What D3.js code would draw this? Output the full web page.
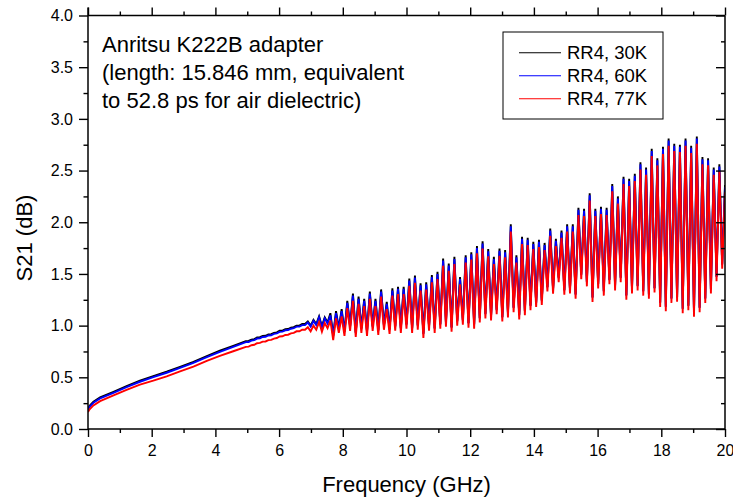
<!DOCTYPE html>
<html>
<head>
<meta charset="utf-8">
<script src="https://cdn.jsdelivr.net/npm/d3@7"></script>
<style>
  body { margin: 0; background: #fff; }
  svg { display: block; font-family: "Liberation Sans", Arial, Helvetica, sans-serif; }
</style>
</head>
<body>
<div id="chart"></div>
<script>
// ---- data ----
// smooth part (0 - 4.6 GHz)
const lowFreq = [0, 0.05, 0.17, 0.38, 0.8, 1.21, 1.63, 2.05, 2.47, 2.89, 3.31, 3.73, 4.14, 4.56];
const low30K = [0.19, 0.225, 0.264, 0.306, 0.36, 0.415, 0.467, 0.512, 0.554, 0.602, 0.65, 0.705, 0.757, 0.805];
const low60K = [0.185, 0.215, 0.254, 0.296, 0.35, 0.405, 0.457, 0.502, 0.544, 0.592, 0.64, 0.695, 0.747, 0.795];
const low77K = [0.165, 0.19, 0.228, 0.27, 0.325, 0.378, 0.43, 0.468, 0.51, 0.558, 0.604, 0.66, 0.707, 0.752];

// ripple part: sampled every half ripple period from 4.955 GHz to 20 GHz (peak, trough, peak, ...)
const hiStart = 4.955, hiStep = 0.0885;
const hi30K = [
  0.85,0.852, 0.865,0.87, 0.885,0.888, 0.90,0.902, 0.915,0.917, 0.93,0.935, 0.95,0.952, 0.965,0.967, 0.98,0.985, 1.00,1.00,
  1.015,1.015, 1.04,1.00, 1.055,1.015, 1.09,0.995, 1.08,1.03, 1.12,0.905, 1.14,0.975, 1.16,0.945, 1.24,0.995, 1.31,0.935,
  1.28,0.975, 1.26,0.945, 1.33,0.995, 1.26,0.955, 1.35,1.005, 1.23,0.965, 1.36,0.995, 1.375,0.975, 1.375,1.015, 1.455,0.975,
  1.485,1.005, 1.41,0.925, 1.42,0.995, 1.49,0.975, 1.52,1.015, 1.65,1.035, 1.60,0.985, 1.665,1.045, 1.47,1.055, 1.68,1.025,
  1.71,1.015, 1.77,1.075, 1.815,1.115, 1.74,1.095, 1.665,1.155, 1.745,1.085, 1.73,1.125, 1.98,1.175, 1.68,1.105, 1.86,1.145,
  1.85,1.195, 1.81,1.225, 1.83,1.245, 1.80,1.375, 1.94,1.355, 1.84,1.465, 1.92,1.345, 1.98,1.355, 1.98,1.305, 2.14,1.495,
  2.13,1.425, 2.28,1.275, 2.13,1.405, 2.15,1.335, 2.14,1.445, 2.37,1.385, 2.25,1.465, 2.44,1.295, 2.42,1.355, 2.47,1.385,
  2.58,1.335, 2.53,1.305, 2.71,1.365, 2.62,1.225, 2.73,1.185, 2.81,1.265, 2.76,1.275, 2.75,1.165, 2.81,1.195, 2.74,1.13,
  2.83,1.175, 2.63,1.265, 2.62,1.355, 2.53,1.475, 2.56,1.595, 2.36
];
const hi60K = [
  0.84,0.842, 0.855,0.86, 0.875,0.878, 0.89,0.892, 0.905,0.907, 0.92,0.925, 0.94,0.942, 0.955,0.957, 0.97,0.975, 0.99,0.99,
  1.005,1.005, 1.03,0.99, 1.045,1.005, 1.08,0.985, 1.07,1.02, 1.10,0.90, 1.12,0.97, 1.14,0.94, 1.22,0.99, 1.29,0.93,
  1.26,0.97, 1.24,0.94, 1.31,0.99, 1.24,0.95, 1.33,1.00, 1.21,0.96, 1.34,0.99, 1.355,0.97, 1.355,1.01, 1.435,0.97,
  1.465,1.00, 1.39,0.92, 1.40,0.99, 1.47,0.97, 1.50,1.01, 1.63,1.03, 1.58,0.98, 1.645,1.04, 1.45,1.05, 1.66,1.02,
  1.69,1.01, 1.75,1.07, 1.795,1.11, 1.72,1.09, 1.645,1.15, 1.725,1.08, 1.71,1.12, 1.96,1.17, 1.66,1.10, 1.84,1.14,
  1.83,1.19, 1.79,1.22, 1.81,1.24, 1.78,1.37, 1.92,1.35, 1.82,1.46, 1.90,1.34, 1.96,1.35, 1.96,1.30, 2.12,1.49,
  2.11,1.42, 2.26,1.27, 2.11,1.40, 2.13,1.33, 2.12,1.44, 2.35,1.38, 2.23,1.46, 2.42,1.29, 2.40,1.35, 2.45,1.38,
  2.56,1.33, 2.51,1.30, 2.69,1.36, 2.60,1.22, 2.71,1.18, 2.79,1.26, 2.74,1.27, 2.73,1.16, 2.79,1.19, 2.72,1.125,
  2.81,1.17, 2.61,1.26, 2.60,1.35, 2.51,1.47, 2.54,1.59, 2.34
];
const hi77K = [
  0.795,0.797, 0.81,0.815, 0.83,0.833, 0.845,0.847, 0.86,0.862, 0.875,0.88, 0.895,0.897, 0.91,0.912, 0.925,0.93, 0.945,0.945,
  0.96,0.96, 0.985,0.945, 1.00,0.96, 1.035,0.94, 1.025,0.975, 1.05,0.86, 1.07,0.93, 1.09,0.90, 1.17,0.95, 1.24,0.89,
  1.21,0.93, 1.19,0.90, 1.26,0.95, 1.19,0.91, 1.28,0.96, 1.16,0.92, 1.29,0.95, 1.305,0.93, 1.305,0.97, 1.385,0.93,
  1.415,0.96, 1.34,0.88, 1.35,0.95, 1.42,0.93, 1.45,0.97, 1.58,0.99, 1.53,0.94, 1.595,1.00, 1.40,1.01, 1.61,0.98,
  1.64,0.97, 1.70,1.03, 1.745,1.07, 1.67,1.05, 1.595,1.11, 1.675,1.04, 1.66,1.08, 1.91,1.13, 1.61,1.06, 1.79,1.10,
  1.78,1.15, 1.74,1.18, 1.76,1.20, 1.73,1.33, 1.87,1.31, 1.77,1.42, 1.85,1.30, 1.91,1.31, 1.91,1.26, 2.07,1.45,
  2.06,1.38, 2.21,1.23, 2.06,1.36, 2.08,1.29, 2.07,1.40, 2.30,1.34, 2.18,1.42, 2.37,1.25, 2.35,1.31, 2.40,1.34,
  2.51,1.29, 2.46,1.26, 2.64,1.32, 2.55,1.18, 2.66,1.14, 2.74,1.22, 2.69,1.23, 2.68,1.12, 2.74,1.15, 2.67,1.085,
  2.76,1.13, 2.56,1.22, 2.55,1.31, 2.46,1.43, 2.49,1.55, 2.29
];

const seriesNames = ["RR4, 30K", "RR4, 60K", "RR4, 77K"];
const seriesColors = ["#000000", "#0000ff", "#ff0000"];
const xMajorTicks = [0, 2, 4, 6, 8, 10, 12, 14, 16, 18, 20];
const xMinorTicks = [1, 3, 5, 7, 9, 11, 13, 15, 17, 19];
const yMajorTicks = [0, 0.5, 1.0, 1.5, 2.0, 2.5, 3.0, 3.5, 4.0];
const yMinorTicks = [0.25, 0.75, 1.25, 1.75, 2.25, 2.75, 3.25, 3.75];
const noteLines = ["Anritsu K222B adapter", "(length: 15.846 mm, equivalent", "to 52.8 ps for air dielectric)"];

// ---- chart ----
const width = 733, height = 499;
const margin = { top: 15.5, right: 8, bottom: 70, left: 88 };

const svg = d3.select("#chart").append("svg")
  .attr("width", width)
  .attr("height", height);

const x = d3.scaleLinear().domain([0, 20]).range([margin.left, width - margin.right]);
const y = d3.scaleLinear().domain([0, 4]).range([height - margin.bottom, margin.top]);

// build the three series
const hiFreq = hi60K.map((d, i) => hiStart + i * hiStep);
const freq = lowFreq.concat(hiFreq);
const series = [low30K.concat(hi30K), low60K.concat(hi60K), low77K.concat(hi77K)];

svg.append("clipPath").attr("id", "plot-clip")
  .append("rect")
  .attr("x", x(0)).attr("y", y(4))
  .attr("width", x(20) - x(0)).attr("height", y(0) - y(4));

const line = d3.line()
  .x((d, i) => x(freq[i]))
  .y(d => y(d));

const plot = svg.append("g").attr("clip-path", "url(#plot-clip)");
series.forEach((vals, k) => {
  plot.append("path")
    .datum(vals)
    .attr("fill", "none")
    .attr("stroke", seriesColors[k])
    .attr("stroke-width", 1.9)
    .attr("stroke-linejoin", "miter")
    .attr("d", line);
});

// axes
function styleAxis(g) {
  g.selectAll("line").attr("stroke", "#000").attr("stroke-width", 1.4);
  g.select(".domain").remove();
  g.selectAll("text").style("font-size", "16px").attr("fill", "#000");
}

const yBottom = y(0), yTop = y(4), xLeft = x(0), xRight = x(20);

// bottom: outward ticks with labels
svg.append("g").attr("transform", `translate(0,${yBottom})`)
  .call(d3.axisBottom(x).tickValues(xMajorTicks).tickSize(8).tickPadding(8).tickFormat(d3.format("d")))
  .call(styleAxis);
svg.append("g").attr("transform", `translate(0,${yBottom})`)
  .call(d3.axisBottom(x).tickValues(xMinorTicks).tickSize(4).tickFormat(""))
  .call(styleAxis);

// top: outward ticks, no labels
svg.append("g").attr("transform", `translate(0,${yTop})`)
  .call(d3.axisTop(x).tickValues(xMajorTicks).tickSize(8).tickFormat(""))
  .call(styleAxis);
svg.append("g").attr("transform", `translate(0,${yTop})`)
  .call(d3.axisTop(x).tickValues(xMinorTicks).tickSize(4).tickFormat(""))
  .call(styleAxis);

// left: outward ticks with labels
svg.append("g").attr("transform", `translate(${xLeft},0)`)
  .call(d3.axisLeft(y).tickValues(yMajorTicks).tickSize(9).tickPadding(6).tickFormat(d3.format(".1f")))
  .call(styleAxis);
svg.append("g").attr("transform", `translate(${xLeft},0)`)
  .call(d3.axisLeft(y).tickValues(yMinorTicks).tickSize(4.5).tickFormat(""))
  .call(styleAxis);

// right: inward ticks
svg.append("g").attr("transform", `translate(${xRight},0)`)
  .call(d3.axisLeft(y).tickValues(yMajorTicks).tickSize(9).tickFormat(""))
  .call(styleAxis);
svg.append("g").attr("transform", `translate(${xRight},0)`)
  .call(d3.axisLeft(y).tickValues(yMinorTicks).tickSize(4).tickFormat(""))
  .call(styleAxis);

// frame
const frame = svg.append("g").attr("stroke", "#000").attr("stroke-width", 1.5);
frame.append("line").attr("x1", xLeft).attr("x2", xRight).attr("y1", yBottom).attr("y2", yBottom);
frame.append("line").attr("x1", xLeft).attr("x2", xRight).attr("y1", yTop).attr("y2", yTop);
frame.append("line").attr("x1", xLeft).attr("x2", xLeft).attr("y1", yTop - 8).attr("y2", yBottom);
frame.append("line").attr("x1", xRight).attr("x2", xRight).attr("y1", yTop).attr("y2", yBottom);

// axis titles
svg.append("text")
  .attr("x", (xLeft + xRight) / 2)
  .attr("y", 491.5)
  .attr("text-anchor", "middle")
  .style("font-size", "22px")
  .text("Frequency (GHz)");

svg.append("text")
  .attr("transform", "translate(31.5,238) rotate(-90)")
  .attr("text-anchor", "middle")
  .style("font-size", "22px")
  .text("S21 (dB)");

// note
const note = svg.append("text").style("font-size", "22px");
noteLines.forEach((t, i) => {
  note.append("tspan").attr("x", 102).attr("y", 52 + i * 27.8).text(t);
});

// legend
const legend = svg.append("g").attr("transform", "translate(503,32)");
legend.append("rect")
  .attr("width", 160).attr("height", 87)
  .attr("fill", "#fff").attr("stroke", "#000").attr("stroke-width", 1);
seriesNames.forEach((name, i) => {
  const ly = 20.7 + i * 23;
  legend.append("line")
    .attr("x1", 16).attr("x2", 58).attr("y1", ly).attr("y2", ly)
    .attr("stroke", seriesColors[i]).attr("stroke-width", 1.1);
  legend.append("text")
    .attr("x", 64).attr("y", ly + 6.6)
    .style("font-size", "18.5px")
    .text(name);
});
</script>
</body>
</html>
